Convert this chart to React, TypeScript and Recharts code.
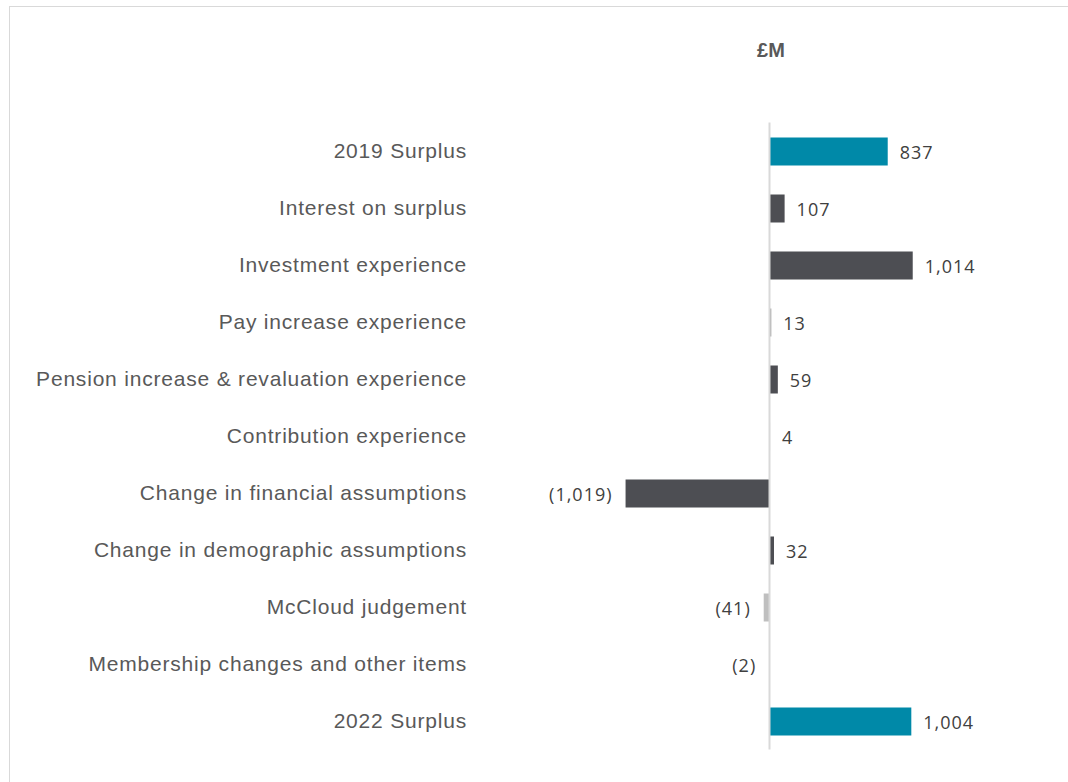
import React from "react";
import { Bar, BarChart, Cell, LabelList, ReferenceLine, XAxis, YAxis } from "recharts";

const categories = [
  "2019 Surplus",
  "Interest on surplus",
  "Investment experience",
  "Pay increase experience",
  "Pension increase & revaluation experience",
  "Contribution experience",
  "Change in financial assumptions",
  "Change in demographic assumptions",
  "McCloud judgement",
  "Membership changes and other items",
  "2022 Surplus",
];
const values = [837, 107, 1014, 13, 59, 4, -1019, 32, -41, -2, 1004];
const barColors = ["#0089a8", "#4d4e53", "#4d4e53", "#a6a6a6", "#4d4e53", "#bfbfbf", "#4d4e53", "#4d4e53", "#bfbfbf", "#bfbfbf", "#0089a8"];

const data = categories.map((name, i) => ({ name, value: values[i] }));

const fmt = (n: number) => (n < 0 ? `(${Math.abs(n).toLocaleString("en-GB")})` : n.toLocaleString("en-GB"));

function ValueLabel(props: any) {
  const { x, y, width, height, value } = props;
  const left = Math.min(x, x + width);
  const right = Math.max(x, x + width);
  const neg = value < 0;
  return (
    <text
      x={neg ? left - 13 : right + 12}
      y={y + height / 2 + 0.5}
      dominantBaseline="central"
      textAnchor={neg ? "end" : "start"}
      fill="#404040"
      fontSize={18}
      letterSpacing={1}
      fontFamily="'Open Sans', sans-serif"
    >
      {fmt(value)}
    </text>
  );
}

export default function App() {
  return (
    <div style={{ position: "fixed", left: 0, top: 0, width: 1068, height: 782, overflow: "hidden", background: "#fff" }}>
      <div style={{ position: "absolute", left: 9, top: 6, width: 1100, height: 820, border: "1px solid #d9d9d9" }} />
      <div
        style={{
          position: "absolute",
          left: 721,
          width: 100,
          top: 39,
          textAlign: "center",
          fontFamily: "'Liberation Sans', Arial, sans-serif",
          fontWeight: "bold",
          fontSize: 20,
          color: "#595959",
        }}
      >
        £M
      </div>
      <div style={{ position: "absolute", left: 0, top: 0 }}>
        <BarChart
          width={1068}
          height={782}
          data={data}
          layout="vertical"
          barSize={28}
          margin={{ top: 122.5, right: 16, bottom: 32.5, left: 0 }}
        >
          <XAxis type="number" domain={[-2000, 2000]} hide />
          <YAxis
            type="category"
            dataKey="name"
            width={487}
            interval={0}
            tickLine={false}
            axisLine={false}
            tickSize={0}
            tickMargin={20}
            tick={{ fill: "#595959", fontSize: 21, letterSpacing: 0.8, fontFamily: "'Liberation Sans', Arial, sans-serif" }}
          />
          <ReferenceLine x={0} stroke="#d9d9d9" strokeWidth={2} />
          <Bar dataKey="value" isAnimationActive={false}>
            {data.map((d, i) => (
              <Cell key={d.name} fill={barColors[i]} />
            ))}
            <LabelList dataKey="value" content={<ValueLabel />} />
          </Bar>
        </BarChart>
      </div>
    </div>
  );
}
